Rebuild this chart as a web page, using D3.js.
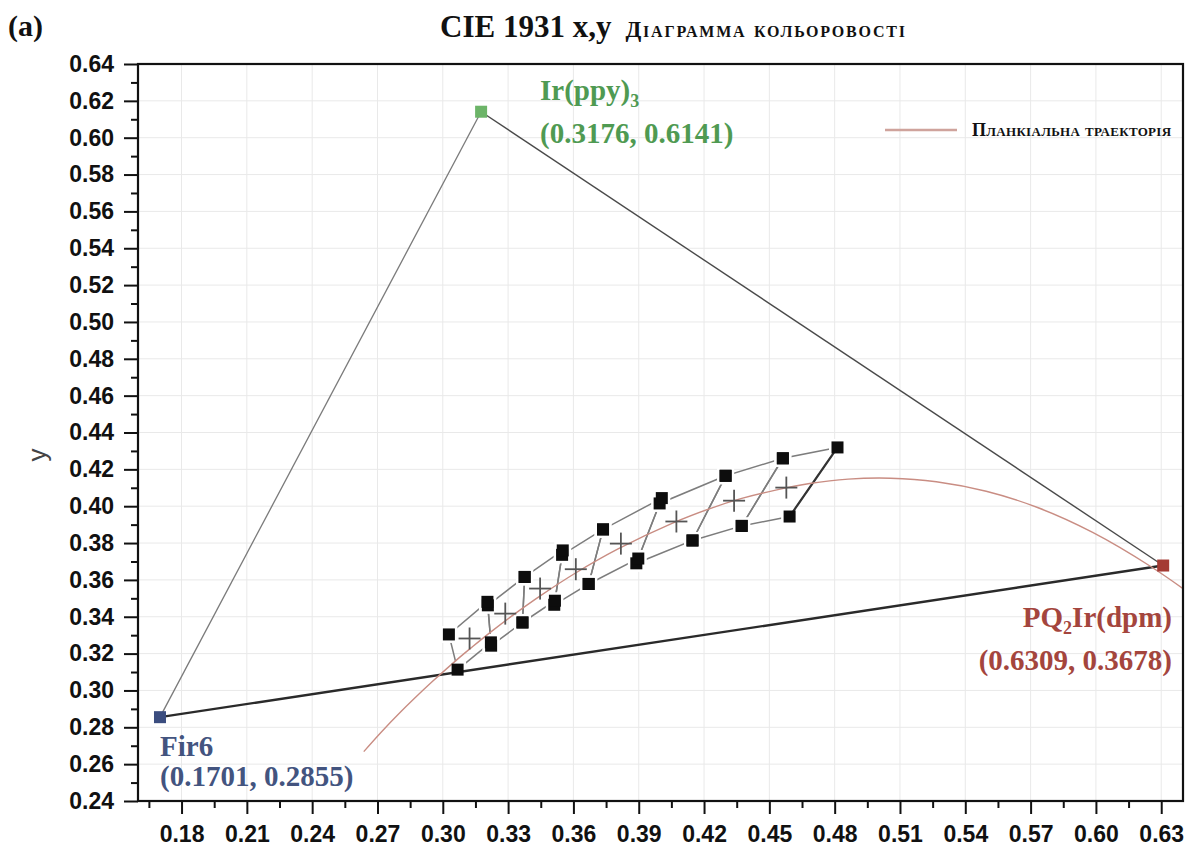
<!DOCTYPE html>
<html>
<head>
<meta charset="utf-8">
<script src="https://cdn.jsdelivr.net/npm/d3@7/dist/d3.min.js"></script>
<style>
  html, body { margin: 0; padding: 0; background: #fff; }
  svg { display: block; }
</style>
</head>
<body>
<svg id="chart" width="1195" height="848"></svg>
<script>
// ---- data ----
// Emitter primaries (CIE 1931 x, y)
const emitterNames = ["Fir6", "Ir(ppy)", "PQ2Ir(dpm)"];
const emitterX = [0.1701, 0.3176, 0.6309];
const emitterY = [0.2855, 0.6141, 0.3678];
const emitterColors = ["#3b4d7f", "#6cb468", "#a43a33"];
const emitterLabelColors = ["#43547f", "#4f9a52", "#a4453d"];

// Planckian locus samples (temperature in K, chromaticity x, y)
const planckT = [1000, 1200, 1400, 1600, 1800, 2000, 2200, 2400, 2600, 2800, 3000, 3200, 3500, 4000, 4500, 5000, 5500, 6000, 6500, 7000, 8000, 9000, 10000, 12000, 15000];
const planckX = [0.6528, 0.6250, 0.5985, 0.5732, 0.5496, 0.5267, 0.5056, 0.4862, 0.4685, 0.4524, 0.4369, 0.4234, 0.4053, 0.3805, 0.3608, 0.3451, 0.3324, 0.3221, 0.3135, 0.3064, 0.2952, 0.2869, 0.2807, 0.2719, 0.2637];
const planckY = [0.3444, 0.3674, 0.3858, 0.3993, 0.4081, 0.4133, 0.4152, 0.4147, 0.4123, 0.4086, 0.4041, 0.3990, 0.3907, 0.3768, 0.3636, 0.3516, 0.3410, 0.3318, 0.3236, 0.3166, 0.3048, 0.2956, 0.2884, 0.2776, 0.2668];

// White-light chromaticity quadrangles: centres and four corners each
const quadCCT = ["2700K", "3000K", "3500K", "4000K", "4500K", "5000K", "5700K", "6500K"];
const centerX = [0.4578, 0.4338, 0.4073, 0.3818, 0.3611, 0.3447, 0.3287, 0.3123];
const centerY = [0.4101, 0.4030, 0.3917, 0.3797, 0.3658, 0.3553, 0.3417, 0.3282];
const cornerX = [
  [0.4813, 0.4562, 0.4373, 0.4593],
  [0.4562, 0.4299, 0.4147, 0.4373],
  [0.4299, 0.3996, 0.3889, 0.4147],
  [0.4006, 0.3736, 0.3670, 0.3898],
  [0.3736, 0.3548, 0.3512, 0.3670],
  [0.3551, 0.3376, 0.3366, 0.3515],
  [0.3376, 0.3207, 0.3222, 0.3366],
  [0.3205, 0.3028, 0.3068, 0.3221]
];
const cornerY = [
  [0.4319, 0.4260, 0.3893, 0.3944],
  [0.4260, 0.4165, 0.3814, 0.3893],
  [0.4165, 0.4015, 0.3690, 0.3814],
  [0.4044, 0.3874, 0.3578, 0.3716],
  [0.3874, 0.3736, 0.3465, 0.3578],
  [0.3760, 0.3616, 0.3369, 0.3487],
  [0.3616, 0.3462, 0.3243, 0.3369],
  [0.3481, 0.3304, 0.3113, 0.3261]
];

// Axis ticks
const xMajor = [0.18, 0.21, 0.24, 0.27, 0.30, 0.33, 0.36, 0.39, 0.42, 0.45, 0.48, 0.51, 0.54, 0.57, 0.60, 0.63];
const xMinor = [0.165, 0.195, 0.225, 0.255, 0.285, 0.315, 0.345, 0.375, 0.405, 0.435, 0.465, 0.495, 0.525, 0.555, 0.585, 0.615];
const yMajor = [0.24, 0.26, 0.28, 0.30, 0.32, 0.34, 0.36, 0.38, 0.40, 0.42, 0.44, 0.46, 0.48, 0.50, 0.52, 0.54, 0.56, 0.58, 0.60, 0.62, 0.64];
const yMinor = [0.25, 0.27, 0.29, 0.31, 0.33, 0.35, 0.37, 0.39, 0.41, 0.43, 0.45, 0.47, 0.49, 0.51, 0.53, 0.55, 0.57, 0.59, 0.61, 0.63];

// ---- layout ----
const svg = d3.select("#chart");
const plot = { left: 138, right: 1183, top: 64, bottom: 801 };
const x = d3.scaleLinear().domain([0.16, 0.64]).range([plot.left, plot.right]);
const y = d3.scaleLinear().domain([0.24, 0.64]).range([plot.bottom, plot.top]);

svg.append("defs").append("clipPath").attr("id", "plotClip")
  .append("rect")
  .attr("x", plot.left).attr("y", plot.top)
  .attr("width", plot.right - plot.left).attr("height", plot.bottom - plot.top);

// grid
const grid = svg.append("g").attr("stroke", "#e9e9e9").attr("stroke-width", 1);
grid.selectAll("line.gx").data(xMajor).join("line")
  .attr("x1", d => x(d)).attr("x2", d => x(d))
  .attr("y1", plot.top).attr("y2", plot.bottom);
grid.selectAll("line.gy").data(yMajor.slice(1, -1)).join("line")
  .attr("x1", plot.left).attr("x2", plot.right)
  .attr("y1", d => y(d)).attr("y2", d => y(d));

const body = svg.append("g").attr("clip-path", "url(#plotClip)");

// quadrangle outlines
const quads = quadCCT.map((c, i) => ({
  cct: c,
  pts: cornerX[i].map((vx, k) => [vx, cornerY[i][k]])
}));
const quadLine = d3.line().x(d => x(d[0])).y(d => y(d[1]));
body.append("g").selectAll("path").data(quads).join("path")
  .attr("d", d => quadLine(d.pts.concat([d.pts[0]])))
  .attr("fill", "none").attr("stroke", "#7d7d7d").attr("stroke-width", 1.5);

// white gaps around the corner symbols
const allCorners = quads.flatMap(q => q.pts);
const sq = 12;
body.append("g").selectAll("rect").data(allCorners).join("rect")
  .attr("x", d => x(d[0]) - sq / 2 - 2.5).attr("y", d => y(d[1]) - sq / 2 - 2.5)
  .attr("width", sq + 5).attr("height", sq + 5).attr("fill", "#fff");

// warm edge of the warmest quadrangle
body.append("line")
  .attr("x1", x(cornerX[0][3])).attr("y1", y(cornerY[0][3]))
  .attr("x2", x(cornerX[0][0])).attr("y2", y(cornerY[0][0]))
  .attr("stroke", "#333").attr("stroke-width", 2.2);

// gamut triangle
const tri = body.append("g").attr("fill", "none");
tri.append("line")
  .attr("x1", x(emitterX[0])).attr("y1", y(emitterY[0]))
  .attr("x2", x(emitterX[1])).attr("y2", y(emitterY[1]))
  .attr("stroke", "#7a7a7a").attr("stroke-width", 1.3);
tri.append("line")
  .attr("x1", x(emitterX[1])).attr("y1", y(emitterY[1]))
  .attr("x2", x(emitterX[2])).attr("y2", y(emitterY[2]))
  .attr("stroke", "#4a4a4a").attr("stroke-width", 1.4);
tri.append("line")
  .attr("x1", x(emitterX[0])).attr("y1", y(emitterY[0]))
  .attr("x2", x(emitterX[2])).attr("y2", y(emitterY[2]))
  .attr("stroke", "#2a2a2a").attr("stroke-width", 2.4);

// Planckian locus
const planck = planckT.map((t, i) => [planckX[i], planckY[i]]);
body.append("path")
  .attr("d", d3.line().x(d => x(d[0])).y(d => y(d[1])).curve(d3.curveCatmullRom)(planck))
  .attr("fill", "none").attr("stroke", "#c98d83").attr("stroke-width", 1.4);

// quadrangle centres
const cs = 11;
const crosses = body.append("g").attr("stroke", "#555").attr("stroke-width", 1.8);
centerX.forEach((cx, i) => {
  const px = x(cx), py = y(centerY[i]);
  crosses.append("line").attr("x1", px - cs).attr("x2", px + cs).attr("y1", py).attr("y2", py);
  crosses.append("line").attr("x1", px).attr("x2", px).attr("y1", py - cs).attr("y2", py + cs);
});

// corner symbols
body.append("g").selectAll("rect").data(allCorners).join("rect")
  .attr("x", d => x(d[0]) - sq / 2).attr("y", d => y(d[1]) - sq / 2)
  .attr("width", sq).attr("height", sq).attr("fill", "#0d0d0d");

// emitter symbols
body.append("g").selectAll("rect").data(emitterX).join("rect")
  .attr("x", (d, i) => x(d) - 6).attr("y", (d, i) => y(emitterY[i]) - 6)
  .attr("width", 12).attr("height", 12)
  .attr("fill", (d, i) => emitterColors[i]);

// ---- axes ----
const fmt = d3.format(".2f");
const axisFont = "'Liberation Sans', Arial, sans-serif";

const yAxis = svg.append("g").attr("transform", `translate(${plot.left},0)`)
  .call(d3.axisLeft(y).tickValues(yMajor).tickSize(14).tickPadding(10).tickFormat(fmt));
svg.append("g").attr("transform", `translate(${plot.left},0)`)
  .call(d3.axisLeft(y).tickValues(yMinor).tickSize(7).tickFormat(""))
  .select(".domain").remove();

const xAxis = svg.append("g").attr("transform", `translate(0,${plot.bottom})`)
  .call(d3.axisBottom(x).tickValues(xMajor).tickSize(13).tickPadding(12).tickFormat(fmt));
svg.append("g").attr("transform", `translate(0,${plot.bottom})`)
  .call(d3.axisBottom(x).tickValues(xMinor).tickSize(7).tickFormat(""))
  .select(".domain").remove();

svg.selectAll(".tick line").attr("stroke", "#111").attr("stroke-width", 2);
yAxis.select(".domain").remove();
xAxis.select(".domain").remove();
svg.selectAll(".tick text")
  .attr("font-family", axisFont).attr("font-weight", "bold")
  .attr("font-size", 23).attr("fill", "#111");

// frame
svg.append("rect")
  .attr("x", plot.left).attr("y", plot.top)
  .attr("width", plot.right - plot.left).attr("height", plot.bottom - plot.top)
  .attr("fill", "none").attr("stroke", "#111").attr("stroke-width", 2.2);

// y axis title
svg.append("text")
  .attr("transform", "translate(46,455) rotate(-90)")
  .attr("text-anchor", "middle")
  .attr("font-family", axisFont).attr("font-size", 26).attr("fill", "#444")
  .text("y");

// ---- titles ----
const serif = "'Liberation Serif', 'Times New Roman', serif";
svg.append("text").attr("x", 8).attr("y", 36)
  .attr("font-family", serif).attr("font-weight", "bold").attr("font-size", 30).attr("fill", "#111")
  .text("(a)");
const title = svg.append("text").attr("x", 440).attr("y", 37)
  .attr("font-family", serif).attr("font-weight", "bold").attr("fill", "#111");
title.append("tspan").attr("font-size", 31).text("CIE 1931 x,y");
title.append("tspan").attr("dx", 14).attr("font-size", 23)
  .attr("letter-spacing", 1.8).style("font-variant", "small-caps")
  .text("Діаграмма кольоровості");

// legend
svg.append("line").attr("x1", 885).attr("x2", 957).attr("y1", 130).attr("y2", 130)
  .attr("stroke", "#cfa39c").attr("stroke-width", 2.5);
svg.append("text").attr("x", 972).attr("y", 136)
  .attr("font-family", serif).attr("font-weight", "bold").attr("font-size", 18)
  .attr("letter-spacing", 0.3)
  .style("font-variant", "small-caps").attr("fill", "#111")
  .text("Планкіальна траекторія");

// ---- emitter labels ----
const labFont = 29;
const lab = svg.append("g").attr("font-family", serif).attr("font-weight", "bold").attr("font-size", labFont);

// Ir(ppy)3
const t1 = lab.append("text").attr("x", 540).attr("y", 100).attr("fill", emitterLabelColors[1]);
t1.append("tspan").text(emitterNames[1]);
t1.append("tspan").attr("font-size", 18).attr("dy", 7).text("3");
lab.append("text").attr("x", 540).attr("y", 143).attr("fill", emitterLabelColors[1])
  .text(`(${emitterX[1].toFixed(4)}, ${emitterY[1].toFixed(4)})`);

// Fir6
lab.append("text").attr("x", 160).attr("y", 756).attr("fill", emitterLabelColors[0])
  .text(emitterNames[0]);
lab.append("text").attr("x", 160).attr("y", 786).attr("fill", emitterLabelColors[0])
  .text(`(${emitterX[0].toFixed(4)}, ${emitterY[0].toFixed(4)})`);

// PQ2Ir(dpm)
const t3 = lab.append("text").attr("x", 1172).attr("y", 627).attr("text-anchor", "end")
  .attr("fill", emitterLabelColors[2]);
t3.append("tspan").text("PQ");
t3.append("tspan").attr("font-size", 18).attr("dy", 7).text("2");
t3.append("tspan").attr("dy", -7).text("Ir(dpm)");
lab.append("text").attr("x", 1172).attr("y", 670).attr("text-anchor", "end")
  .attr("fill", emitterLabelColors[2])
  .text(`(${emitterX[2].toFixed(4)}, ${emitterY[2].toFixed(4)})`);
</script>
</body>
</html>
